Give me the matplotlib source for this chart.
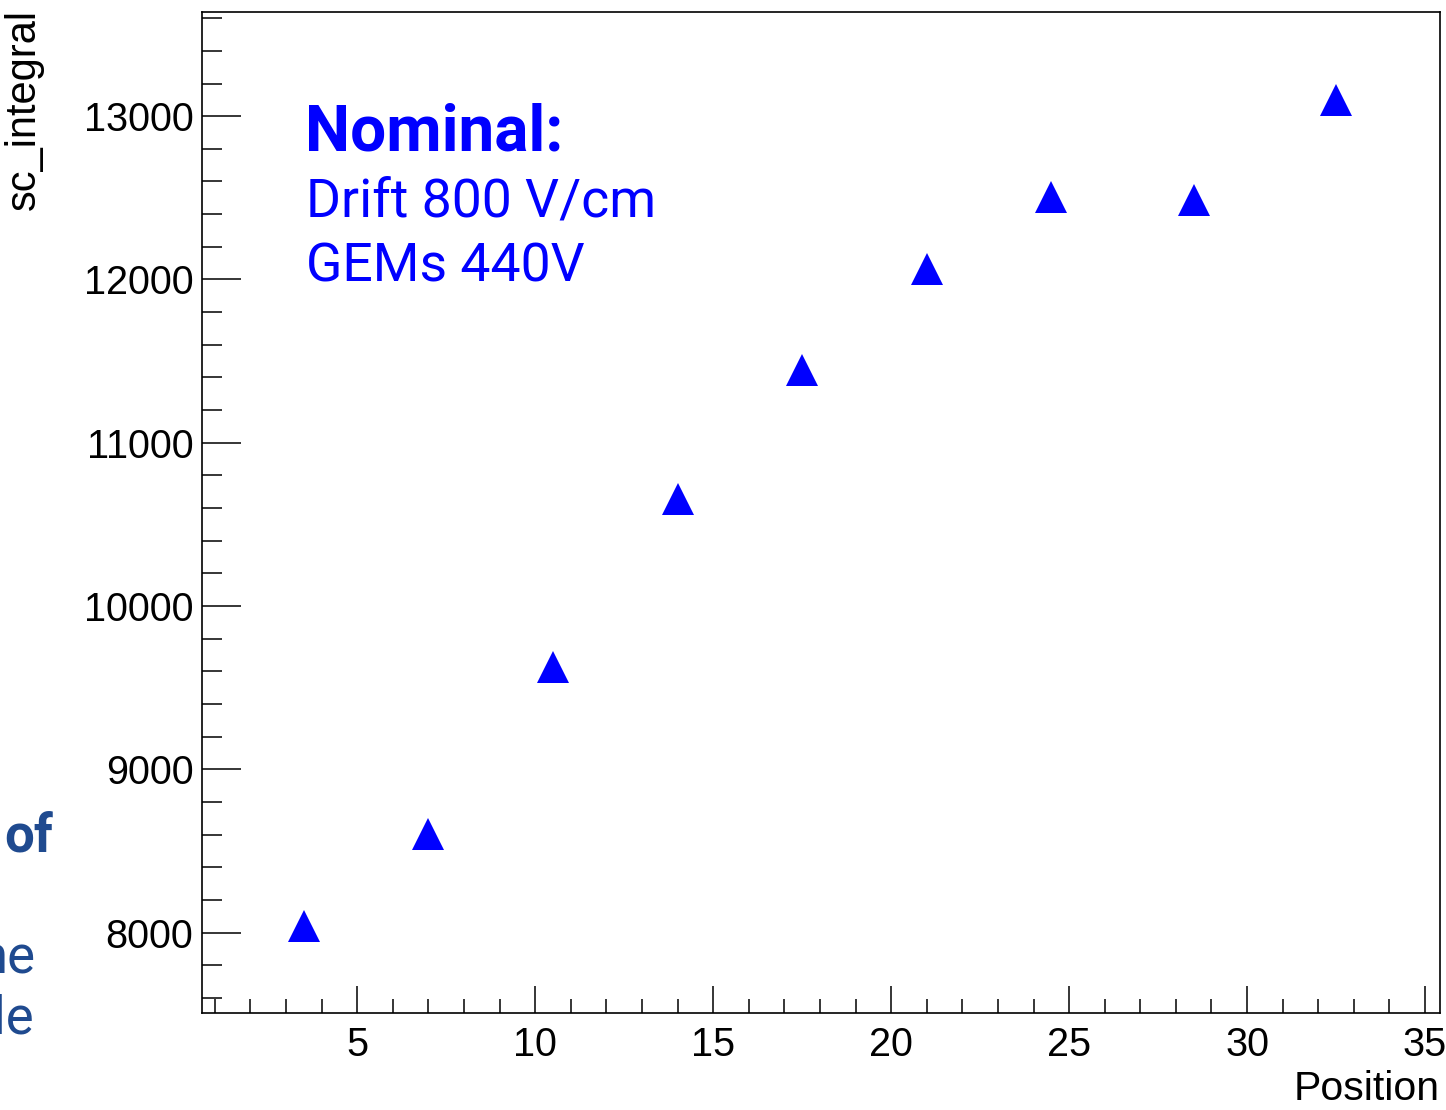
import numpy as np
import matplotlib
matplotlib.use("Agg")
import matplotlib.pyplot as plt
from matplotlib.ticker import MultipleLocator

# values
position = [3.5, 7.0, 10.5, 14.0, 17.5, 21.0, 24.5, 28.5, 32.5]
sc_integral = [8040, 8604, 9627, 10656, 11444, 12066, 12507, 12489, 13101]

x_range = (0.63, 35.42)
y_range = (7507, 13640)

info_title = "Nominal:"
info_lines = ["Drift 800 V/cm", "GEMs 440V"]
slide_words = ["of", "ne", "le"]

W, H = 1446, 1110
fig = plt.figure(figsize=(W / 100, H / 100), dpi=100)
ax = fig.add_axes([201.7 / W, 1 - 1013 / H, (1440 - 201.7) / W, (1013 - 11.7) / H])

ax.plot(position, sc_integral, linestyle="none", marker="^", color="#0000ff",
        markersize=23, markeredgewidth=0)

ax.set_xlim(*x_range)
ax.set_ylim(*y_range)

# ROOT style ticks: inside, only on left and bottom
ax.xaxis.set_major_locator(MultipleLocator(5))
ax.xaxis.set_minor_locator(MultipleLocator(1))
ax.yaxis.set_major_locator(MultipleLocator(1000))
ax.yaxis.set_minor_locator(MultipleLocator(200))
ax.tick_params(axis="both", which="both", direction="in", width=1.1, color="black",
               top=False, right=False, labelsize=28.5)
ax.tick_params(axis="y", which="major", length=28, pad=6)
ax.tick_params(axis="y", which="minor", length=14.4)
ax.tick_params(axis="x", which="major", length=19.4, pad=9)
ax.tick_params(axis="x", which="minor", length=10)
for lab in ax.get_xticklabels() + ax.get_yticklabels():
    lab.set_family(["Liberation Sans", "DejaVu Sans"])
for sp in ax.spines.values():
    sp.set_linewidth(1.2)

fig.text(44 / W, 1 - 9 / H, "sc_integral", rotation=90, ha="right", va="top",
         fontsize=30, family=["Liberation Sans", "DejaVu Sans"])
fig.text(1440 / W, 10 / H, "Position", ha="right", va="baseline",
         fontsize=29.5, family=["Liberation Sans", "DejaVu Sans"])

# annotation inside the frame
fig.text(305 / W, 1 - 151 / H, info_title, ha="left", va="baseline", color="#0000ff",
         fontsize=46, fontweight="bold", family=["Roboto", "DejaVu Sans"])
fig.text(306 / W, 1 - 217 / H, info_lines[0], ha="left", va="baseline", color="#0000ff",
         fontsize=38.5, family=["Roboto", "DejaVu Sans"])
fig.text(306 / W, 1 - 281 / H, info_lines[1], ha="left", va="baseline", color="#0000ff",
         fontsize=38.5, family=["Roboto", "DejaVu Sans"])

# cut-off words from the slide on the left
slide_col = "#1f4a8f"
fig.text(53 / W, 1 - 852 / H, slide_words[0], ha="right", va="baseline", color=slide_col,
         fontsize=38, fontweight="bold", family=["Roboto", "DejaVu Sans"])
fig.text(35 / W, 1 - 973 / H, slide_words[1], ha="right", va="baseline", color=slide_col,
         fontsize=38, family=["Roboto", "DejaVu Sans"])
fig.text(34 / W, 1 - 1033 / H, slide_words[2], ha="right", va="baseline", color=slide_col,
         fontsize=38, family=["Roboto", "DejaVu Sans"])

fig.savefig("out.png", dpi=100)
